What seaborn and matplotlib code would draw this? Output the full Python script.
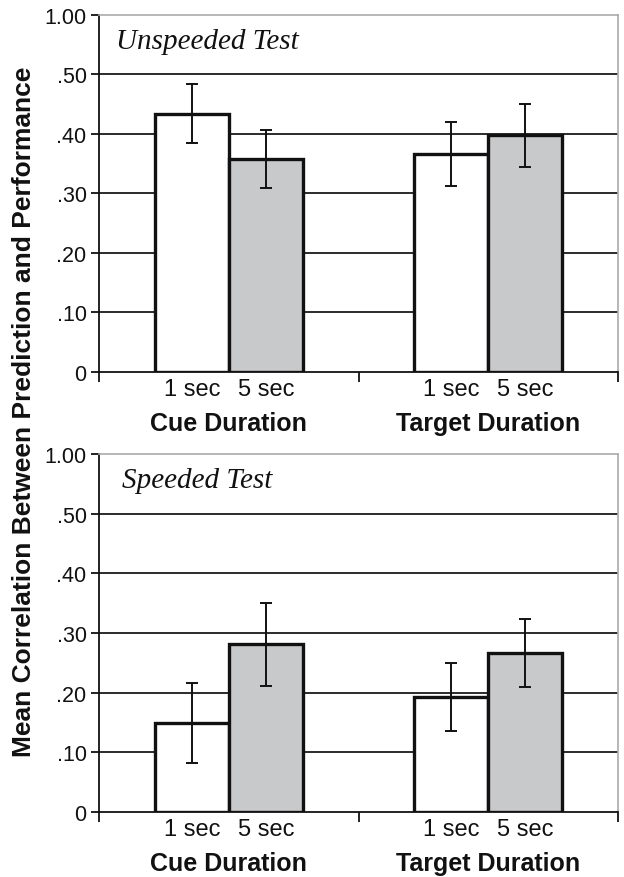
import pandas as pd
import seaborn as sns
import matplotlib.pyplot as plt

# values (correlations, with half-width of error bars)
tests = ['Unspeeded Test', 'Speeded Test']
factors = ['Cue Duration', 'Target Duration']
levels = ['1 sec', '5 sec']

unspeeded_mean = [0.434, 0.358, 0.366, 0.398]
unspeeded_err = [0.050, 0.048, 0.054, 0.053]
speeded_mean = [0.149, 0.281, 0.193, 0.266]
speeded_err = [0.067, 0.070, 0.057, 0.057]

ytick_vals = [0, 0.1, 0.2, 0.3, 0.4, 0.5, 0.6]
ytick_labels = ['0', '.10', '.20', '.30', '.40', '.50', '1.00']

rows = []
for test, means, errs in [(tests[0], unspeeded_mean, unspeeded_err),
                          (tests[1], speeded_mean, speeded_err)]:
    i = 0
    for f in factors:
        for lv in levels:
            rows.append({'test': test, 'factor': f, 'level': lv,
                         'r': means[i], 'err': errs[i]})
            i += 1
df = pd.DataFrame(rows)

sns.set_style('white')
plt.rcParams['font.family'] = ['Liberation Sans', 'DejaVu Sans']

fig = plt.figure(figsize=(6.24, 8.78), dpi=100)
ax_top = fig.add_axes([0.1587, 0.5752, 0.8317, 0.4066])
ax_bot = fig.add_axes([0.1587, 0.0740, 0.8317, 0.4078])

for ax, test, tx in [(ax_top, tests[0], 0.033), (ax_bot, tests[1], 0.044)]:
    sub = df[df['test'] == test]
    for y in ytick_vals[1:-1]:
        ax.axhline(y, color='#1a1a1a', lw=1.3, zorder=0)
    sns.barplot(data=sub, x='factor', y='r', hue='level', order=factors,
                hue_order=levels, palette=['white', '#c8c9cb'], width=0.57,
                edgecolor='#111111', linewidth=2.4, errorbar=None,
                legend=False, ax=ax, zorder=2)
    # error bars at bar centres
    xs, ys, es = [], [], []
    for lv_i, lv in enumerate(levels):
        for f_i, f in enumerate(factors):
            row = sub[(sub['factor'] == f) & (sub['level'] == lv)].iloc[0]
            xs.append(f_i + (-0.1425 if lv_i == 0 else 0.1425))
            ys.append(row['r'])
            es.append(row['err'])
    ax.errorbar(xs, ys, yerr=es, fmt='none', ecolor='#111111',
                elinewidth=1.4, capsize=4, capthick=1.4, zorder=3)

    ax.set_xlim(-0.5, 1.5)
    ax.set_ylim(0, 0.6)
    ax.set_yticks(ytick_vals)
    ax.set_yticklabels(ytick_labels)
    ax.set_xticks([-0.1425, 0.1425, 0.8575, 1.1425])
    ax.set_xticklabels(levels * 2)
    ax.set_xticks([-0.5, 0.5, 1.5], minor=True)
    ax.tick_params(axis='x', which='major', length=0, labelsize=17,
                   pad=4, colors='#111111')
    ax.tick_params(axis='x', which='minor', length=7, width=1.3,
                   direction='out', bottom=True, color='#111111')
    ax.tick_params(axis='y', length=6, width=1.3, direction='out',
                   left=True, labelsize=15.5, pad=3, colors='#111111')
    ax.set_xlabel('')
    ax.set_ylabel('')
    for f_i, f in enumerate(factors):
        ax.text(f_i, -0.143, f, ha='center', va='center', fontsize=18,
                fontweight='bold', color='#111111',
                transform=ax.get_xaxis_transform(), clip_on=False)
    ax.text(tx, 0.927, test, transform=ax.transAxes, ha='left',
            va='center', fontsize=21, style='italic',
            family=['Liberation Serif', 'DejaVu Serif'], color='#111111')

    ax.spines['left'].set_color('#111111')
    ax.spines['left'].set_linewidth(1.3)
    ax.spines['bottom'].set_color('#111111')
    ax.spines['bottom'].set_linewidth(1.3)
    ax.spines['top'].set_color('#aaaaaa')
    ax.spines['right'].set_color('#aaaaaa')
    ax.spines['top'].set_linewidth(1.2)
    ax.spines['right'].set_linewidth(1.2)

fig.text(0.038, 0.531, 'Mean Correlation Between Prediction and Performance',
         rotation=90, ha='center', va='center', fontsize=19,
         fontweight='bold', color='#111111')

plt.savefig('out.png', dpi=100)
